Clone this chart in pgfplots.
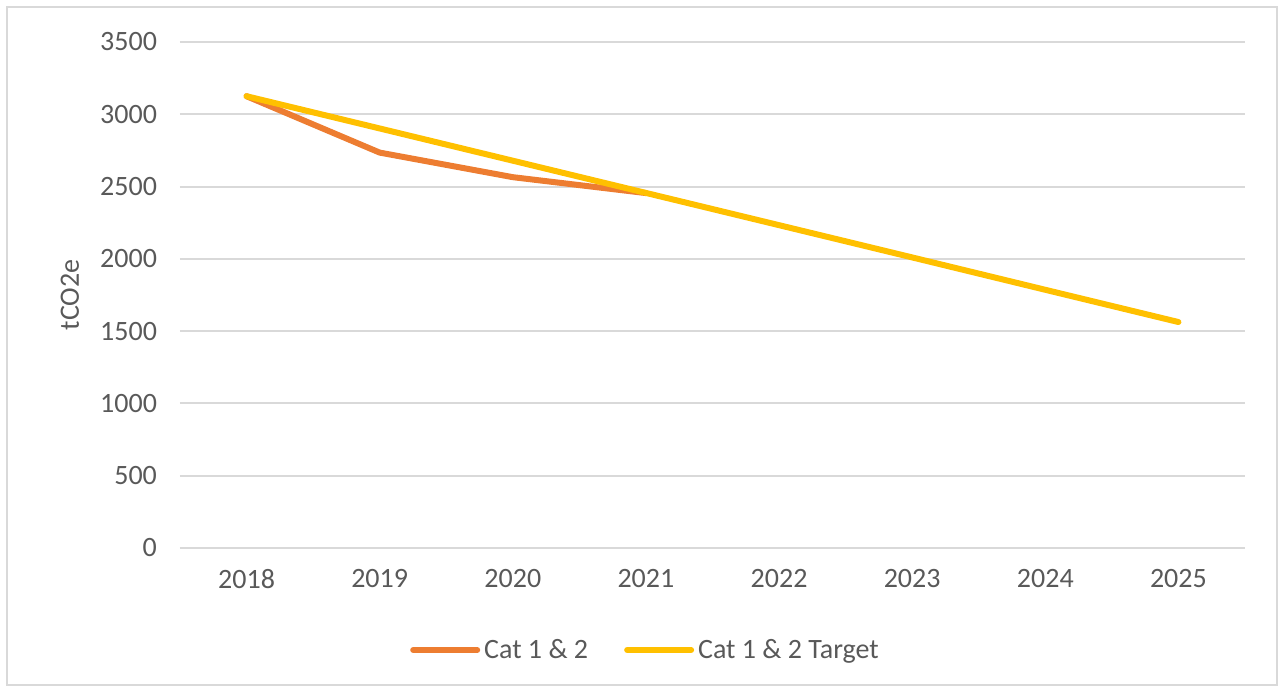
\documentclass[border=0pt]{standalone}
\usepackage{pgfplots}
\pgfplotsset{compat=1.18}
\usepackage{fontspec}
\setmainfont{Carlito}
\definecolor{cOrange}{HTML}{ED7D31}
\definecolor{cYellow}{HTML}{FFC000}
\definecolor{cGrid}{HTML}{D9D9D9}
\definecolor{cText}{HTML}{595959}
\begin{document}
\begin{tikzpicture}
\useasboundingbox (-90pt,-71.5pt) rectangle (551pt,274pt);
\draw[cGrid, line width=1pt] (-86.5pt,-68.5pt) rectangle (548.5pt,270.5pt);
\begin{axis}[
  at={(0,0)}, anchor=south west,
  scale only axis, width=532.5pt, height=253pt,
  xmin=-0.5, xmax=7.5, ymin=0, ymax=3500,
  xtick={0,1,2,3,4,5,6,7},
  xticklabels={2018,2019,2020,2021,2022,2023,2024,2025},
  ytick={0,500,1000,1500,2000,2500,3000,3500},
  axis line style={draw=none},
  axis x line*=bottom,
  tick style={draw=none},
  ymajorgrids, grid style={cGrid, line width=1pt},
  every tick label/.append style={font=\fontsize{14}{16}\selectfont, text=cText},
  /pgf/number format/assume math mode=true,
  /pgf/number format/1000 sep={},
  yticklabel style={xshift=-8pt},
  xticklabel style={yshift=-7pt},
  ylabel={tCO2e},
  ylabel style={font=\fontsize{14}{16}\selectfont, text=cText, at={(axis description cs:-0.1033,0.5)}, anchor=center},
  legend style={at={(0.5,0)}, xshift=-33pt, yshift=-51pt, anchor=center, draw=none, fill=none,
    legend columns=2, font=\fontsize{14}{16}\selectfont, text=cText,
    /tikz/every even column/.append style={column sep=16pt}},
  legend image code/.code={\draw[#1, line cap=round] (0pt,0pt) -- (32pt,0pt);},
]
\draw[cGrid, line width=1pt] (axis cs:-0.5,0) -- (axis cs:7.5,0);
\addplot[cOrange, line width=3pt, line cap=round, line join=round] coordinates {
(0,3125) (1,2735) (2,2565) (3,2455)};
\addlegendentry{Cat 1 \& 2}
\addplot[cYellow, line width=3pt, line cap=round, line join=round] coordinates {
(0,3125) (1,2902) (2,2679) (3,2456) (4,2233) (5,2010) (6,1786) (7,1563)};
\addlegendentry{Cat 1 \& 2 Target}
\end{axis}
\end{tikzpicture}
\end{document}
